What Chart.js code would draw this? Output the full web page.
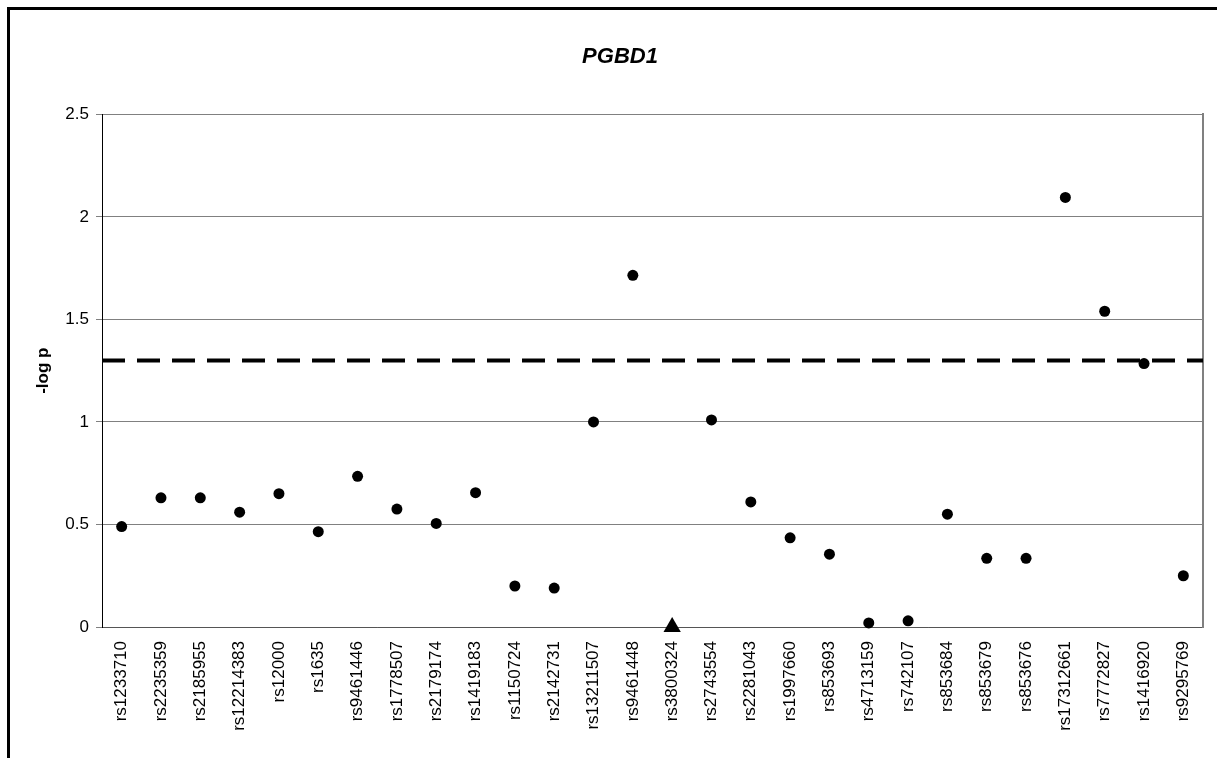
<!DOCTYPE html>
<html>
<head>
<meta charset="utf-8">
<title>PGBD1</title>
<script src="https://cdn.jsdelivr.net/npm/chart.js@4.4.1/dist/chart.umd.min.js"></script>
<style>
    html, body { margin: 0; padding: 0; background: #fff; overflow: hidden; }
    #wrap { position: relative; width: 1217px; height: 758px; overflow: hidden; }
    #chart { position: absolute; left: 0; top: 0; }
    /* outer chart frame, cut off at the right and bottom like the original */
    #frame {
        position: absolute; left: 7px; top: 7px;
        width: 1240px; height: 800px;
        border: 3px solid #000; pointer-events: none;
    }
</style>
</head>
<body>
<div id="wrap">
    <canvas id="chart" width="1240" height="758"></canvas>
    <div id="frame"></div>
</div>
<script>
    // SNP names along the x axis
    const snps = [
        'rs1233710', 'rs2235359', 'rs2185955', 'rs12214383', 'rs12000', 'rs1635',
        'rs9461446', 'rs1778507', 'rs2179174', 'rs1419183', 'rs1150724', 'rs2142731',
        'rs13211507', 'rs9461448', 'rs3800324', 'rs2743554', 'rs2281043', 'rs1997660',
        'rs853693', 'rs4713159', 'rs742107', 'rs853684', 'rs853679', 'rs853676',
        'rs17312661', 'rs7772827', 'rs1416920', 'rs9295769'
    ];

    // -log p for each SNP
    const logP = [
        0.49, 0.63, 0.63, 0.56, 0.65, 0.465,
        0.735, 0.575, 0.505, 0.655, 0.2, 0.19,
        1.0, 1.715, 0, 1.01, 0.61, 0.435,
        0.355, 0.02, 0.03, 0.55, 0.335, 0.335,
        2.095, 1.54, 1.285, 0.25
    ];

    // SNPs drawn with a triangle instead of a dot
    const triangleSnps = ['rs3800324'];

    // significance line (p = 0.05)
    const threshold = 1.3;

    const yTicks = [0, 0.5, 1, 1.5, 2, 2.5];

    const FONT = '"Liberation Sans", Arial, sans-serif';

    function isTriangle(ctx) {
        return triangleSnps.includes(snps[ctx.dataIndex]);
    }

    new Chart(document.getElementById('chart').getContext('2d'), {
        type: 'line',
        data: {
            labels: snps,
            datasets: [
                {
                    label: '-log p',
                    data: logP,
                    showLine: false,
                    pointStyle: ctx => isTriangle(ctx) ? 'triangle' : 'circle',
                    pointRadius: ctx => isTriangle(ctx) ? 10 : 5.5,
                    pointBackgroundColor: '#000',
                    pointBorderColor: '#000',
                    pointBorderWidth: 0,
                    clip: false,
                    order: 0
                },
                {
                    label: 'threshold',
                    xAxisID: 'x2',
                    data: [{x: 0, y: threshold}, {x: 1, y: threshold}],
                    borderColor: '#000',
                    borderWidth: 4,
                    borderDash: [23, 12],
                    pointRadius: 0,
                    order: 1
                }
            ]
        },
        options: {
            responsive: false,
            animation: false,
            events: [],
            layout: { padding: 0 },
            plugins: {
                legend: { display: false },
                tooltip: { enabled: false },
                title: {
                    display: true,
                    text: 'PGBD1',
                    color: '#000',
                    font: { family: FONT, size: 22, weight: 'bold', style: 'italic' },
                    padding: { top: 44, bottom: 44 }
                }
            },
            scales: {
                x: {
                    type: 'category',
                    offset: true,
                    grid: { display: false, drawTicks: false },
                    border: { display: true, color: '#555', width: 1 },
                    ticks: {
                        color: '#000',
                        font: { family: FONT, size: 17 },
                        minRotation: 90,
                        maxRotation: 90,
                        autoSkip: false,
                        padding: 14
                    },
                    afterFit: scale => { scale.height = 131; }
                },
                x2: {
                    type: 'linear',
                    display: false,
                    min: 0,
                    max: 1
                },
                y: {
                    min: 0,
                    max: 2.5,
                    afterBuildTicks: scale => {
                        scale.ticks = yTicks.map(v => ({ value: v }));
                    },
                    grid: { color: '#808080', lineWidth: 1, tickLength: 6 },
                    border: { display: true, color: '#000', width: 1 },
                    ticks: {
                        color: '#000',
                        font: { family: FONT, size: 17 },
                        padding: 7,
                        callback: value => String(value)
                    },
                    title: {
                        display: true,
                        text: '-log p',
                        color: '#000',
                        font: { family: FONT, size: 17, weight: 'bold' },
                        padding: { top: 33, bottom: 0 }
                    },
                    afterFit: scale => { scale.width = 102; }
                },
                y2: {
                    position: 'right',
                    min: 0,
                    max: 2.5,
                    grid: { drawOnChartArea: false, drawTicks: false },
                    border: { display: true, color: '#808080', width: 2 },
                    ticks: { display: false },
                    afterFit: scale => { scale.width = 37; }
                }
            }
        }
    });
</script>
</body>
</html>
